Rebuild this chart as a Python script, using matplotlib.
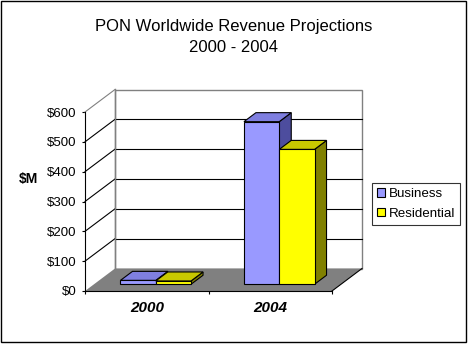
import matplotlib
matplotlib.use("Agg")
import matplotlib.pyplot as plt
from matplotlib.patches import Polygon, Rectangle, Patch

# ---- data ----
categories = ["2000", "2004"]
business = [13, 545]
residential = [11, 452]
series_names = ["Business", "Residential"]
y_ticks = [0, 100, 200, 300, 400, 500, 600]
y_tick_labels = ["$0", "$100", "$200", "$300", "$400", "$500", "$600"]
title_lines = ["PON Worldwide Revenue Projections", "2000 - 2004"]
y_label = "$M"

# ---- style ----
front_colors = ["#9999FF", "#FFFF00"]
top_colors = ["#7F7FE0", "#C8C800"]
side_colors = ["#4D4D9E", "#808000"]
FONT = "Liberation Sans"
plt.rcParams["font.family"] = [FONT, "DejaVu Sans"]

W, H = 468, 345
fig = plt.figure(figsize=(W / 100, H / 100), dpi=100)
# axes = front plane of the 3D box
ax = fig.add_axes([85 / W, 54 / H, 247 / W, 179 / H])
ax.set_xlim(0, len(categories))
ax.set_ylim(0, 600)

px_x = 247 / len(categories)
px_y = 179 / 600
DX = 30 / px_x      # depth offset in x data units
DY = 22.5 / px_y    # depth offset in y data units
ymax = 600
xmax = len(categories)

# back wall
ax.add_patch(Rectangle((DX, DY), xmax, ymax, facecolor="white",
                       edgecolor="#808080", lw=1.0, clip_on=False, zorder=1))
for v in y_ticks[1:-1]:
    ax.plot([DX, DX + xmax], [v + DY, v + DY], color="black", lw=0.8,
            clip_on=False, zorder=2)
# left wall
for v in y_ticks[1:]:
    ax.plot([0, DX], [v, v + DY], color="black" if v < ymax else "#808080",
            lw=0.8, clip_on=False, zorder=2)
ax.plot([DX, DX], [DY, ymax + DY], color="#808080", lw=1.0, clip_on=False, zorder=2)

# floor
ax.add_patch(Polygon([(0, 0), (xmax, 0), (xmax + DX, DY), (DX, DY)],
                     closed=True, facecolor="#808080", edgecolor="none",
                     clip_on=False, zorder=3))
ax.plot([xmax, xmax + DX], [0, DY], color="black", lw=0.8, clip_on=False, zorder=3)

# bars
w = 1 / 3.5
f1, f2 = 0.3, 0.7
series = [business, residential]
z = 5
for i, cat in enumerate(categories):
    for s, vals in enumerate(series):
        h = vals[i]
        x0 = i + 0.75 * w + s * w
        # side face
        ax.add_patch(Polygon([(x0 + w + f1 * DX, f1 * DY), (x0 + w + f2 * DX, f2 * DY),
                              (x0 + w + f2 * DX, h + f2 * DY), (x0 + w + f1 * DX, h + f1 * DY)],
                             closed=True, facecolor=side_colors[s], edgecolor="black",
                             lw=0.8, clip_on=False, zorder=z))
        # top face
        ax.add_patch(Polygon([(x0 + f1 * DX, h + f1 * DY), (x0 + w + f1 * DX, h + f1 * DY),
                              (x0 + w + f2 * DX, h + f2 * DY), (x0 + f2 * DX, h + f2 * DY)],
                             closed=True, facecolor=top_colors[s], edgecolor="black",
                             lw=0.8, clip_on=False, zorder=z))
        # front face
        ax.bar(x0 + f1 * DX, h, width=w, bottom=f1 * DY, align="edge",
               color=front_colors[s], edgecolor="black", lw=0.8,
               clip_on=False, zorder=z + 0.5)
        z += 1

# axes styling
for sp in ["top", "right"]:
    ax.spines[sp].set_visible(False)
ax.spines["left"].set_linewidth(0.8)
ax.spines["bottom"].set_linewidth(0.8)
ax.spines["left"].set_zorder(4)
ax.spines["bottom"].set_zorder(4)
ax.patch.set_visible(False)

ax.set_yticks(y_ticks)
ax.set_yticklabels(y_tick_labels, fontsize=9.5)
ax.tick_params(axis="y", direction="out", length=2.5, width=0.8, pad=3.5)

ax.set_xticks(list(range(len(categories) + 1)))
ax.set_xticklabels([""] * (len(categories) + 1))
ax.set_xticks([i + 0.5 for i in range(len(categories))], minor=True)
ax.set_xticklabels(categories, minor=True, fontsize=11, fontweight="bold",
                   fontstyle="italic")
ax.tick_params(axis="x", which="major", direction="out", length=2.5, width=0.8)
ax.tick_params(axis="x", which="minor", length=0, pad=7)

# titles and labels
fig.text(233.5 / W, 1 - 26 / H, title_lines[0], ha="center", va="center", fontsize=12)
fig.text(233.5 / W, 1 - 47 / H, title_lines[1], ha="center", va="center", fontsize=12)
fig.text(28 / W, 1 - 179 / H, y_label, ha="center", va="center", fontsize=10,
         fontweight="bold")

# legend
handles = [Patch(facecolor=front_colors[k], edgecolor="black", lw=0.8)
           for k in range(len(series_names))]
leg = fig.legend(handles, series_names, loc="upper left",
                 bbox_to_anchor=(372 / W, 1 - 183 / H), bbox_transform=fig.transFigure,
                 fontsize=9.6, frameon=True, fancybox=False, borderaxespad=0,
                 handlelength=0.6, handleheight=0.6, handletextpad=0.25,
                 borderpad=0.4, labelspacing=0.55)
leg.get_frame().set_edgecolor("black")
leg.get_frame().set_linewidth(0.8)

# outer border
fig.patches.append(Rectangle((1 / W, 3 / H), 465 / W, 341 / H, transform=fig.transFigure,
                             fill=False, edgecolor="black", lw=1.0))

fig.savefig("out.png", dpi=100)
